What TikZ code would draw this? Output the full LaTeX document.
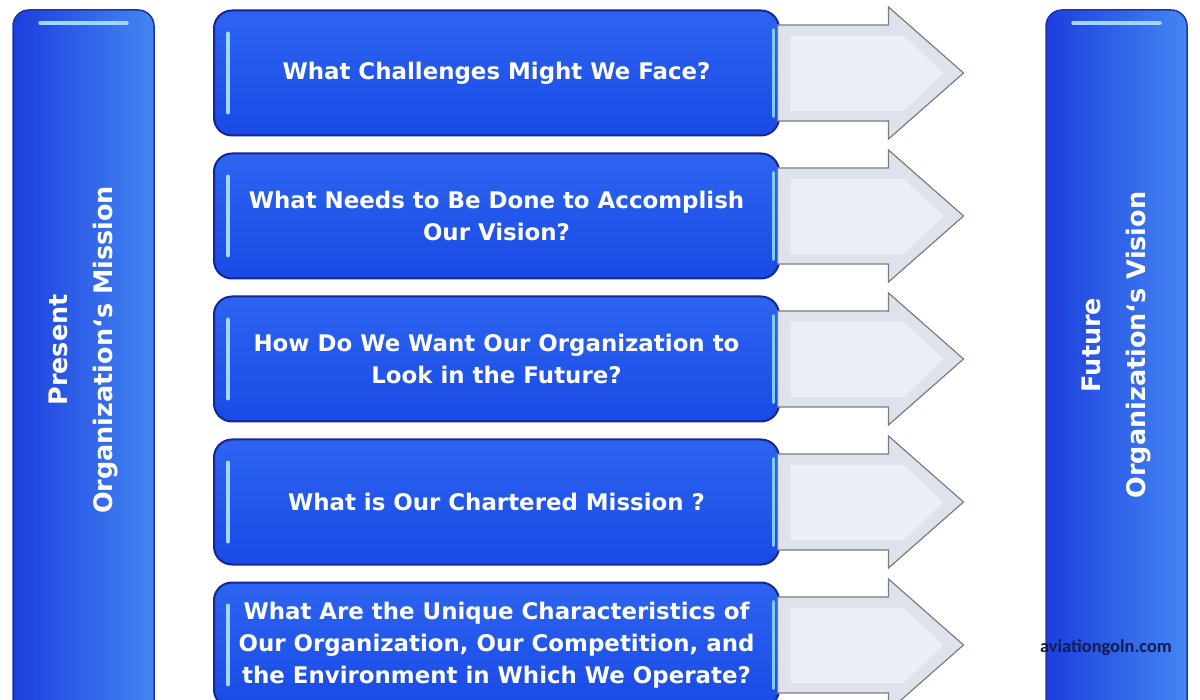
\documentclass[tikz,border=0pt]{standalone}
\usepackage{fontspec}
\setmainfont{DejaVu Sans}
\newfontfamily\markfont{Carlito}
\usepackage{tikz}
\usetikzlibrary{positioning, calc}
\definecolor{barleft}{RGB}{28,62,222}
\definecolor{barright}{RGB}{68,134,242}
\definecolor{baredge}{RGB}{30,50,170}
\definecolor{boxtop}{RGB}{45,100,240}
\definecolor{boxbottom}{RGB}{25,74,230}
\definecolor{boxedge}{RGB}{20,38,150}
\definecolor{glint}{RGB}{160,215,255}
\definecolor{glintcyan}{RGB}{120,205,250}
\definecolor{arrowfill}{RGB}{222,226,234}
\definecolor{arrowface}{RGB}{236,239,245}
\definecolor{arrowedge}{RGB}{120,124,135}
\definecolor{markcolor}{RGB}{18,28,80}

\begin{document}
\begin{tikzpicture}[x=1pt, y=-1pt,
    bar/.style={draw=baredge, line width=1.5pt, rounded corners=16pt, left color=barleft, right color=barright, minimum width=141pt, minimum height=720pt, inner sep=0pt},
    qbox/.style={draw=boxedge, line width=2pt, rounded corners=18pt, top color=boxtop, bottom color=boxbottom, minimum width=565pt, minimum height=125pt, inner sep=0pt, align=center, text=white, font=\bfseries\fontsize{22.9}{32}\selectfont},
    bartext/.style={rotate=90, align=center, text=white, font=\bfseries\fontsize{25.5}{45}\selectfont},
    arrowout/.style={fill=arrowfill, draw=arrowedge, line width=1.2pt, line join=miter},
    arrowin/.style={fill=arrowface, draw=none},
    glintline/.style={draw=glint, line width=4pt, line cap=round}]
    \clip (0,0) rectangle (1200,700);
    \fill[white] (0,0) rectangle (1200,700);

    % Present bar
    \node[bar] (present) at (83.5,370) {};
    \draw[glintline] ($(present.north west)+(28,14)$) -- ($(present.north east)+(-28,14)$);
    \node[bartext] (presenttext) at (83.5,350) {Present\\Organization‘s Mission};

    % Future bar
    \node[bar] (future) at (1116.5,370) {};
    \draw[glintline] ($(future.north west)+(28,14)$) -- ($(future.north east)+(-28,14)$);
    \node[bartext] (futuretext) at (1116.5,345) {Future\\Organization‘s Vision};

    % Question boxes
    \node[qbox] (q1) at (496.5,73) {What Challenges Might We Face?};
    \node[qbox, below=16pt of q1] (q2) {What Needs to Be Done to Accomplish\\Our Vision?};
    \node[qbox, below=16pt of q2] (q3) {How Do We Want Our Organization to\\Look in the Future?};
    \node[qbox, below=16pt of q3] (q4) {What is Our Chartered Mission ?};
    \node[qbox, below=16pt of q4] (q5) {What Are the Unique Characteristics of\\Our Organization, Our Competition, and\\the Environment in Which We Operate?};

    % Arrows and glints
    \foreach \n in {q1,q2,q3,q4,q5} {
        \draw[arrowout] ($(\n.center)+(281,-48)$) -- ++(111,0) -- ++(0,-18) -- ++(75,66) -- ++(-75,66) -- ++(0,-18) -- ++(-111,0) -- cycle;
        \fill[arrowin] ($(\n.center)+(294,-37)$) -- ++(113,0) -- ++(40,37) -- ++(-40,38) -- ++(-113,0) -- cycle;
        \draw[glintline] ($(\n.north west)+(15,24)$) -- ($(\n.south west)+(15,-24)$);
        \draw[glintline, draw=glintcyan, line width=3pt] ($(\n.north east)+(-7,20)$) -- ($(\n.south east)+(-7,-20)$);
    }

    % Watermark
    \node[text=markcolor, font=\markfont\bfseries\fontsize{18.4}{18}\selectfont] (mark) at (1106,648) {aviationgoln.com};
\end{tikzpicture}
\end{document}
